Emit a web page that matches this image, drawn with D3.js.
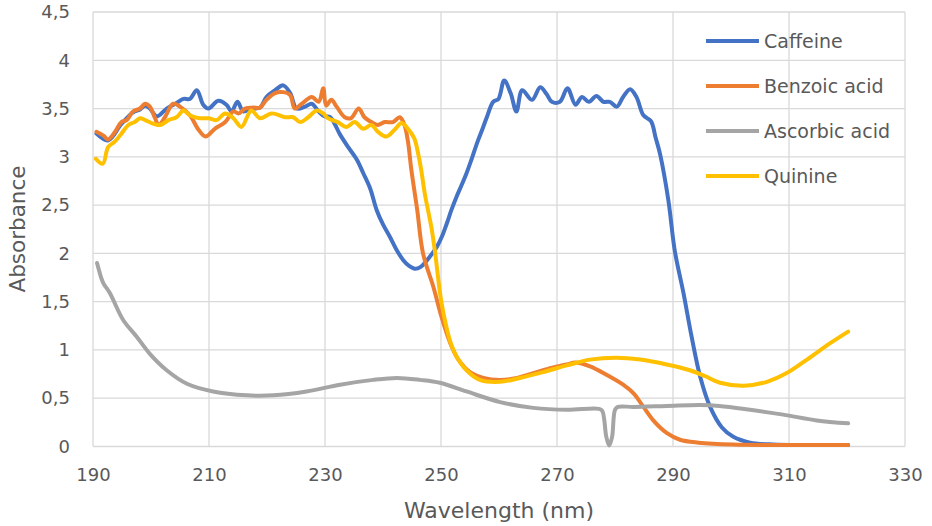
<!DOCTYPE html>
<html>
<head>
<meta charset="utf-8">
<script src="https://cdn.jsdelivr.net/npm/d3@7"></script>
<style>
  html, body { margin: 0; padding: 0; background: #fff; }
  svg text { font-family: "DejaVu Sans", "Open Sans", sans-serif; fill: #595959; }
</style>
</head>
<body>
<svg id="chart" width="932" height="526"></svg>
<script>
// ---- data ----
const seriesNames = ["Caffeine", "Benzoic acid", "Ascorbic acid", "Quinine"];
const seriesColors = ["#4472C4", "#ED7D31", "#A5A5A5", "#FFC000"];
const xTicks = [190, 210, 230, 250, 270, 290, 310, 330];
const yTicks = [0, 0.5, 1, 1.5, 2, 2.5, 3, 3.5, 4, 4.5];
const yTickLabels = ["0", "0,5", "1", "1,5", "2", "2,5", "3", "3,5", "4", "4,5"];

const caffeineNm = [190.6,192.6,194.9,196.9,198.1,199.0,199.8,201.0,202.7,204.2,205.6,206.7,207.9,209.0,209.9,211.6,213.0,213.9,214.9,215.9,217.3,218.8,219.9,221.4,222.8,224.0,225.1,226.6,227.7,228.9,229.9,230.9,232.6,234.0,235.5,236.6,237.8,238.9,240.0,241.2,242.4,243.5,244.5,245.5,246.5,247.6,248.5,249.3,250.2,251.0,251.8,252.7,253.5,254.4,255.3,256.2,257.1,257.9,259.0,259.9,260.9,262.0,263.0,264.0,265.7,267.1,268.2,269.1,270.5,271.8,273.2,274.3,275.5,276.8,278.0,279.1,280.3,281.4,282.6,283.7,284.9,286.2,287.0,287.8,289.2,290.3,291.8,293.2,294.7,296.4,298.4,300.4,303.3,307.3,313.0,320.2];
const caffeineAbs = [3.24,3.17,3.34,3.46,3.49,3.53,3.50,3.42,3.50,3.55,3.60,3.60,3.69,3.54,3.50,3.58,3.54,3.47,3.57,3.47,3.50,3.51,3.62,3.69,3.74,3.66,3.50,3.52,3.55,3.47,3.42,3.41,3.23,3.10,2.97,2.83,2.67,2.45,2.30,2.17,2.03,1.93,1.87,1.84,1.86,1.93,2.00,2.07,2.18,2.31,2.45,2.59,2.70,2.83,2.98,3.14,3.28,3.41,3.57,3.60,3.79,3.66,3.47,3.69,3.59,3.72,3.65,3.57,3.57,3.71,3.54,3.62,3.57,3.63,3.57,3.57,3.52,3.62,3.70,3.62,3.43,3.37,3.20,3.02,2.55,2.03,1.59,1.14,0.72,0.41,0.20,0.10,0.04,0.02,0.015,0.015];

const benzoicNm = [190.6,191.8,192.6,193.8,194.9,195.8,196.9,198.1,199.0,199.8,200.7,201.3,202.4,203.8,205.0,206.7,208.2,209.4,211.0,212.8,214.2,215.1,216.2,217.6,218.8,219.9,221.4,222.8,224.0,224.8,226.0,227.7,228.9,229.7,230.2,231.1,232.0,233.4,234.5,235.8,236.8,238.0,239.1,240.3,241.7,242.9,243.7,244.3,244.9,245.9,246.9,248.7,250.1,251.6,253.0,255.0,257.3,260.2,263.1,265.9,268.8,271.7,273.2,275.7,278.6,281.4,283.2,284.9,286.6,288.9,291.2,294.4,300.3,310.0,320.2];
const benzoicAbs = [3.26,3.22,3.18,3.26,3.36,3.38,3.47,3.50,3.55,3.52,3.40,3.33,3.41,3.55,3.52,3.43,3.28,3.21,3.29,3.36,3.47,3.45,3.50,3.51,3.51,3.59,3.66,3.67,3.64,3.50,3.55,3.62,3.57,3.71,3.53,3.59,3.52,3.41,3.40,3.50,3.41,3.36,3.33,3.36,3.36,3.41,3.33,3.16,2.86,2.45,2.00,1.65,1.34,1.07,0.90,0.77,0.71,0.69,0.71,0.76,0.81,0.85,0.87,0.83,0.74,0.64,0.55,0.41,0.27,0.14,0.07,0.04,0.02,0.015,0.015];

const ascorbicNm = [190.7,191.4,191.8,192.9,195.2,197.5,199.8,202.7,206.2,210.7,216.5,221.1,226.8,232.6,238.3,242.4,246.4,249.8,254.4,260.2,265.9,271.7,277.2,277.8,278.5,279.0,279.5,280.0,280.5,283.2,288.9,294.7,298.0,303.3,309.0,314.8,320.2];
const ascorbicAbs = [1.90,1.75,1.69,1.59,1.31,1.14,0.96,0.79,0.65,0.57,0.53,0.53,0.57,0.64,0.69,0.71,0.69,0.66,0.57,0.46,0.40,0.38,0.39,0.37,0.10,0.01,0.10,0.38,0.41,0.41,0.42,0.43,0.42,0.38,0.33,0.27,0.24];

const quinineNm = [190.5,191.7,192.6,193.8,194.9,196.1,197.2,198.1,199.0,200.1,201.6,203.0,204.4,205.6,206.7,208.4,209.9,211.3,212.8,214.2,215.6,217.3,218.8,220.8,223.1,224.5,225.7,227.1,228.6,229.7,230.5,232.2,233.7,235.1,236.6,238.0,239.1,240.6,242.0,243.2,244.3,245.4,246.0,246.6,247.2,248.4,249.0,250.0,251.0,251.8,252.7,254.4,256.7,260.2,263.6,267.6,271.7,275.7,280.3,284.3,288.9,292.9,295.5,298.1,302.2,306.2,309.6,313.1,317.1,320.2];
const quinineAbs = [2.98,2.93,3.10,3.16,3.24,3.33,3.36,3.40,3.38,3.35,3.33,3.38,3.41,3.48,3.43,3.40,3.40,3.38,3.45,3.40,3.31,3.48,3.40,3.45,3.41,3.41,3.36,3.41,3.48,3.45,3.40,3.36,3.31,3.36,3.29,3.33,3.26,3.21,3.28,3.35,3.29,3.19,3.05,2.86,2.62,2.25,2.00,1.52,1.22,1.05,0.93,0.79,0.69,0.67,0.71,0.77,0.84,0.90,0.92,0.90,0.85,0.79,0.73,0.66,0.63,0.67,0.76,0.90,1.07,1.19];

const seriesX = [caffeineNm, benzoicNm, ascorbicNm, quinineNm];
const seriesY = [caffeineAbs, benzoicAbs, ascorbicAbs, quinineAbs];

// ---- layout ----
const svg = d3.select("#chart");
const plotLeft = 93, plotRight = 905, plotTop = 12, plotBottom = 446.5;

const x = d3.scaleLinear().domain([190, 330]).range([plotLeft, plotRight]);
const y = d3.scaleLinear().domain([0, 4.5]).range([plotBottom, plotTop]);

// gridlines
const grid = svg.append("g");
grid.selectAll("line.h").data(yTicks).join("line")
  .attr("x1", plotLeft).attr("x2", plotRight)
  .attr("y1", d => y(d)).attr("y2", d => y(d))
  .attr("stroke", "#d9d9d9").attr("stroke-width", 1.3);
grid.selectAll("line.v").data(xTicks).join("line")
  .attr("y1", plotTop).attr("y2", plotBottom)
  .attr("x1", d => x(d)).attr("x2", d => x(d))
  .attr("stroke", "#d9d9d9").attr("stroke-width", 1.3);

// axes (labels only, via d3 axes)
const yAxis = d3.axisLeft(y).tickValues(yTicks).tickFormat((d, i) => yTickLabels[i]).tickSize(0).tickPadding(0);
const yg = svg.append("g").attr("transform", `translate(${plotLeft - 23},0)`).call(yAxis);
yg.select(".domain").remove();
yg.selectAll("text").attr("font-size", 18).attr("fill", "#595959")
  .style("font-family", '"DejaVu Sans", sans-serif');

const xAxis = d3.axisBottom(x).tickValues(xTicks).tickFormat(d3.format("d")).tickSize(0).tickPadding(0);
const xg = svg.append("g").attr("transform", `translate(0,${plotBottom + 22})`).call(xAxis);
xg.select(".domain").remove();
xg.selectAll("text").attr("font-size", 18).attr("fill", "#595959")
  .style("font-family", '"DejaVu Sans", sans-serif');

// axis titles
svg.append("text").attr("x", (plotLeft + plotRight) / 2).attr("y", 518)
  .attr("text-anchor", "middle").attr("font-size", 22).text("Wavelength (nm)");
svg.append("text").attr("transform", "translate(25,229) rotate(-90)")
  .attr("text-anchor", "middle").attr("font-size", 21.5).text("Absorbance");

// lines
const line = d3.line().x(d => x(d[0])).y(d => y(d[1])).curve(d3.curveCatmullRom.alpha(0.5));
seriesNames.forEach((name, i) => {
  const pts = seriesX[i].map((v, j) => [v, seriesY[i][j]]);
  svg.append("path").datum(pts)
    .attr("fill", "none").attr("stroke", seriesColors[i])
    .attr("stroke-width", 4).attr("stroke-linejoin", "round").attr("stroke-linecap", "round")
    .attr("d", line);
});

// legend
const legend = svg.append("g").attr("transform", "translate(706,41)");
seriesNames.forEach((name, i) => {
  const g = legend.append("g").attr("transform", `translate(0,${i * 45})`);
  g.append("line").attr("x1", 0).attr("x2", 53).attr("y1", 0).attr("y2", 0)
    .attr("stroke", seriesColors[i]).attr("stroke-width", 4);
  g.append("text").attr("x", 58).attr("y", 0).attr("dy", "0.35em")
    .attr("font-size", 19).text(name);
});
</script>
</body>
</html>
